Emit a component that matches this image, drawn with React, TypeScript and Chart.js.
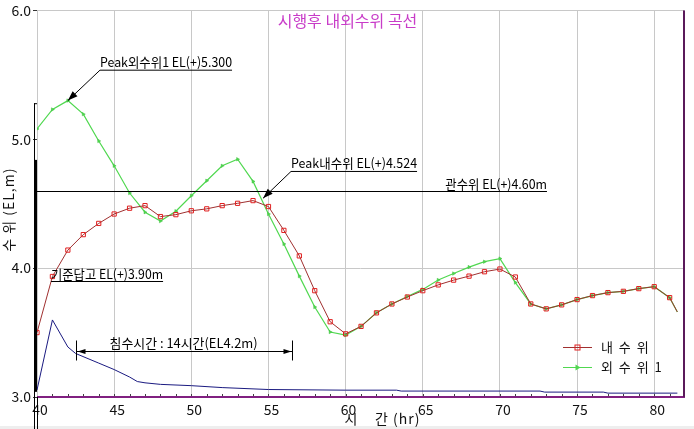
import React, { useEffect, useRef } from "react";
import { Chart, registerables } from "chart.js";

Chart.register(...registerables);

// ---- data ----
const hours = [
  40, 41, 42, 43, 44, 45, 46, 47, 48, 49, 50, 51, 52, 53, 54, 55, 56, 57, 58, 59, 60,
  61, 62, 63, 64, 65, 66, 67, 68, 69, 70, 71, 72, 73, 74, 75, 76, 77, 78, 79, 80, 81, 81.5,
];
const innerLevel = [
  3.5, 3.935, 4.14, 4.26, 4.347, 4.42, 4.465, 4.485, 4.4, 4.415, 4.445, 4.46, 4.485, 4.503,
  4.524, 4.478, 4.293, 4.095, 3.825, 3.584, 3.49, 3.548, 3.653, 3.722, 3.776, 3.825, 3.87,
  3.907, 3.938, 3.972, 3.993, 3.931, 3.722, 3.684, 3.715, 3.756, 3.787, 3.81, 3.82, 3.841,
  3.856, 3.771, 3.66,
];
const outerLevel = [
  5.08, 5.231, 5.3, 5.195, 4.987, 4.794, 4.583, 4.434, 4.365, 4.442, 4.562, 4.678, 4.794,
  4.845, 4.673, 4.42, 4.188, 3.938, 3.698, 3.504, 3.48, 3.548, 3.653, 3.722, 3.78, 3.835,
  3.908, 3.958, 4.008, 4.05, 4.074, 3.888, 3.722, 3.684, 3.715, 3.756, 3.787, 3.81, 3.82,
  3.841, 3.856, 3.771, 3.66,
];
const baseHours = [
  40, 41, 42, 42.5, 44, 45, 46, 46.5, 47, 48, 50, 52, 55, 60, 63.3, 63.6, 72.6, 72.9, 76.7, 77,
  81.5,
];
const baseLevel = [
  3.054, 3.598, 3.388, 3.338, 3.263, 3.213, 3.155, 3.12, 3.11, 3.098, 3.088, 3.073, 3.058,
  3.053, 3.053, 3.046, 3.046, 3.038, 3.038, 3.03, 3.03,
];
const yTicks = [3, 4, 5, 6];
const xTickStep = 5;

const titleText = "시행후 내외수위 곡선";
const yTitle = "수 위 (EL,m)";
const xTitle = "시    간 (hr)";
const innerLabel = "내 수 위";
const outerLabel = "외 수 위 1";
const peakOuterText = "Peak외수위1 EL(+)5.300";
const peakInnerText = "Peak내수위 EL(+)4.524";
const gateText = "관수위 EL(+)4.60m";
const gateLevel = 4.6;
const paddyText = "기준답고 EL(+)3.90m";
const paddyLevel = 3.9;
const floodText = "침수시간 : 14시간(EL4.2m)";
const floodStart = 42.5;
const floodEnd = 56.5;

const NUM_FONT = '"Liberation Sans Narrow", "Noto Sans CJK KR", sans-serif';
const KR_FONT = '"Noto Sans CJK KR", "Liberation Sans Narrow", sans-serif';

function arrowHead(ctx: CanvasRenderingContext2D, fx: number, fy: number, tx: number, ty: number, len: number, hw: number) {
  const a = Math.atan2(ty - fy, tx - fx);
  const bx = tx - len * Math.cos(a);
  const by = ty - len * Math.sin(a);
  ctx.beginPath();
  ctx.moveTo(tx, ty);
  ctx.lineTo(bx + hw * Math.sin(a), by - hw * Math.cos(a));
  ctx.lineTo(bx - hw * Math.sin(a), by + hw * Math.cos(a));
  ctx.closePath();
  ctx.fill();
}

function setSpacing(ctx: any, v: string) {
  if ("letterSpacing" in ctx) ctx.letterSpacing = v;
}

const decoPlugin = {
  id: "deco",
  beforeDraw(chart: any) {
    const ctx = chart.ctx;
    ctx.save();
    ctx.fillStyle = "#ffffff";
    ctx.fillRect(0, 0, chart.width, chart.height);
    ctx.fillStyle = "#eeeeee";
    ctx.fillRect(0, chart.height - 3, chart.width, 3);
    ctx.restore();
  },
  afterDraw(chart: any) {
    const ctx: CanvasRenderingContext2D = chart.ctx;
    const xs = chart.scales.x;
    const ys = chart.scales.y;
    const ca = chart.chartArea;
    const X = (v: number) => xs.getPixelForValue(v);
    const Y = (v: number) => ys.getPixelForValue(v);
    ctx.save();

    // borders
    ctx.fillStyle = "#802080";
    ctx.fillRect(ca.left, ca.bottom - 1, ca.right - ca.left + 1, 2);
    ctx.fillStyle = "#5a1a5a";
    ctx.fillRect(ca.right - 1, ca.top, 2, ca.bottom - ca.top);
    // minor hour ticks on bottom
    ctx.fillStyle = "#404040";
    for (let h = 41; h < xs.max; h++) {
      ctx.fillRect(Math.round(X(h)), ca.bottom - 3, 1, 2);
    }
    // left black bars
    ctx.fillStyle = "#000";
    const topThin = Y(5.28);
    ctx.fillRect(ca.left - 3, topThin, 1, chart.height - topThin);
    ctx.fillRect(ca.left - 3, topThin, 3, 1);
    ctx.fillRect(ca.left - 3, Y(4.84), 3, Y(3.04) - Y(4.84));
    ctx.fillRect(ca.left, ca.bottom, 1, chart.height - ca.bottom);

    // title
    ctx.fillStyle = "#c83cc8";
    ctx.font = `16px ${KR_FONT}`;
    ctx.textAlign = "center";
    ctx.textBaseline = "middle";
    ctx.fillText(titleText, (ca.left + ca.right) / 2 - 13, ca.top + 11);

    // axis titles
    ctx.fillStyle = "#111";
    ctx.font = `14px ${KR_FONT}`;
    setSpacing(ctx, "1px");
    ctx.save();
    ctx.translate(9, (ca.top + ca.bottom) / 2 + 6);
    ctx.rotate(-Math.PI / 2);
    ctx.textAlign = "center";
    ctx.textBaseline = "middle";
    ctx.fillText(yTitle, 0, 0);
    ctx.restore();
    ctx.textAlign = "left";
    ctx.textBaseline = "middle";
    ctx.font = `14px ${KR_FONT}`;
    ctx.fillText(xTitle, X(60) - 1, chart.height - 10);
    setSpacing(ctx, "0px");

    ctx.strokeStyle = "#000";
    ctx.fillStyle = "#000";
    ctx.lineWidth = 1;
    ctx.font = `13px ${KR_FONT}`;

    // Peak outer
    {
      const ul = Y(5.54);
      const x0 = X(44.08), x1 = X(52.64);
      ctx.textAlign = "left";
      ctx.textBaseline = "alphabetic";
      ctx.fillText(peakOuterText, x0, ul - 3, x1 - x0);
      ctx.beginPath();
      ctx.moveTo(x1, ul + 0.5);
      ctx.lineTo(x0, ul + 0.5);
      ctx.lineTo(X(42), Y(5.3));
      ctx.stroke();
      arrowHead(ctx, x0, ul, X(42), Y(5.3), 10, 3.5);
    }
    // Peak inner
    {
      const ul = Y(4.754);
      const x0 = X(56.46), x1 = X(64.63);
      ctx.fillText(peakInnerText, x0, ul - 3, x1 - x0);
      ctx.beginPath();
      ctx.moveTo(x1, ul + 0.5);
      ctx.lineTo(x0, ul + 0.5);
      ctx.lineTo(X(54.65), Y(4.542));
      ctx.stroke();
      arrowHead(ctx, x0, ul, X(54.65), Y(4.542), 10, 3.5);
    }
    // gate level line
    {
      const ly = Math.round(Y(gateLevel)) + 0.5;
      const x1 = X(73.05);
      ctx.beginPath();
      ctx.moveTo(ca.left, ly);
      ctx.lineTo(x1, ly);
      ctx.stroke();
      ctx.textAlign = "right";
      ctx.fillText(gateText, x1, ly - 3, X(73.05) - X(66.46));
    }
    // paddy level
    {
      const ly = Math.round(Y(paddyLevel)) + 0.5;
      const x0 = X(40.91), x1 = X(48.17);
      ctx.textAlign = "left";
      ctx.fillText(paddyText, x0, ly - 3, x1 - x0);
      ctx.beginPath();
      ctx.moveTo(x0, ly);
      ctx.lineTo(x1, ly);
      ctx.stroke();
    }
    // flood duration
    {
      const ly = Math.round(Y(3.357)) + 0.5;
      const x0 = Math.round(X(floodStart)) + 0.5, x1 = Math.round(X(floodEnd)) + 0.5;
      ctx.beginPath();
      ctx.moveTo(x0, ly);
      ctx.lineTo(x1, ly);
      ctx.moveTo(x0, ly - 11);
      ctx.lineTo(x0, ly + 9);
      ctx.moveTo(x1, ly - 11);
      ctx.lineTo(x1, ly + 9);
      ctx.stroke();
      arrowHead(ctx, x0 + 20, ly, x0 + 1, ly, 8, 2.5);
      arrowHead(ctx, x1 - 20, ly, x1 - 1, ly, 8, 2.5);
      ctx.textAlign = "left";
      const tx0 = X(44.7), tx1 = X(54.3);
      ctx.fillText(floodText, tx0, ly - 4, tx1 - tx0);
    }

    // legend
    {
      const lx = 563, lw = 29;
      const rows = [
        { ds: chart.data.datasets[0], y: 347, text: innerLabel },
        { ds: chart.data.datasets[1], y: 367, text: outerLabel },
      ];
      rows.forEach((r, i) => {
        ctx.strokeStyle = r.ds.borderColor;
        ctx.lineWidth = 1;
        ctx.beginPath();
        ctx.moveTo(lx, r.y + 0.5);
        ctx.lineTo(lx + lw, r.y + 0.5);
        ctx.stroke();
        const cx = lx + lw / 2;
        if (i === 0) {
          ctx.strokeStyle = r.ds.pointBorderColor;
          ctx.strokeRect(cx - 2.5, r.y - 2, 5, 5);
        } else {
          ctx.fillStyle = r.ds.pointBackgroundColor;
          ctx.beginPath();
          ctx.moveTo(cx + 3, r.y + 0.5);
          ctx.lineTo(cx - 2, r.y - 2.5);
          ctx.lineTo(cx - 2, r.y + 3.5);
          ctx.closePath();
          ctx.fill();
        }
        ctx.fillStyle = "#111";
        ctx.font = `13px ${KR_FONT}`;
        ctx.textAlign = "left";
        ctx.textBaseline = "middle";
        setSpacing(ctx, "1.5px");
        ctx.fillText(r.text, 601, r.y);
        setSpacing(ctx, "0px");
      });
    }
    ctx.restore();
  },
};

export default function App() {
  const ref = useRef<HTMLCanvasElement | null>(null);
  useEffect(() => {
    if (!ref.current) return;
    const chart = new Chart(ref.current, {
      type: "line",
      data: {
        datasets: [
          {
            label: innerLabel,
            data: hours.map((h, i) => ({ x: h, y: innerLevel[i] })),
            borderColor: "#a03030",
            borderWidth: 1,
            pointStyle: "rect",
            pointRadius: (c: any) => (c.dataIndex === hours.length - 1 ? 0 : 3),
            pointBorderColor: "#e02020",
            pointBackgroundColor: "rgba(0,0,0,0)",
            pointBorderWidth: 1,
            tension: 0,
            order: 0,
          },
          {
            label: outerLabel,
            data: hours.map((h, i) => ({ x: h, y: outerLevel[i] })),
            borderColor: "#50d850",
            borderWidth: 1.2,
            pointStyle: "triangle",
            pointRotation: 90,
            pointRadius: (c: any) => (c.dataIndex === hours.length - 1 ? 0 : 2),
            pointBorderColor: "#40c040",
            pointBackgroundColor: "#50d850",
            pointBorderWidth: 0.5,
            tension: 0,
            order: 1,
          },
          {
            label: "",
            data: baseHours.map((h, i) => ({ x: h, y: baseLevel[i] })),
            borderColor: "#1a1a80",
            borderWidth: 1,
            pointRadius: 0,
            tension: 0,
            order: 2,
          },
        ],
      },
      options: {
        responsive: false,
        animation: false,
        devicePixelRatio: 1,
        layout: { padding: { top: 8, right: 10, left: 0, bottom: 0 } },
        plugins: { legend: { display: false }, tooltip: { enabled: false }, title: { display: false } },
        scales: {
          x: {
            type: "linear",
            min: 40,
            max: 81.93,
            afterFit: (s: any) => {
              s.height = 32;
            },
            ticks: {
              stepSize: xTickStep,
              includeBounds: false,
              autoSkip: false,
              maxRotation: 0,
              padding: 4,
              labelOffset: 3,
              color: "#111",
              font: { family: NUM_FONT, size: 14 },
              callback: (v: any) => String(v),
            },
            grid: { color: "#c8c8c8", lineWidth: 1, drawTicks: false },
            border: { display: false },
          },
          y: {
            type: "linear",
            min: 3,
            max: 6,
            afterFit: (s: any) => {
              s.width = 37;
            },
            afterBuildTicks: (s: any) => {
              s.ticks = yTicks.map((v) => ({ value: v }));
            },
            ticks: {
              padding: 2,
              color: "#111",
              font: { family: NUM_FONT, size: 14 },
              callback: (v: any) => Number(v).toFixed(1),
            },
            grid: {
              color: (c: any) => (c.tick && (c.tick.value === 4 || c.tick.value === 6) ? "#c8c8c8" : "rgba(0,0,0,0)"),
              tickColor: "#333",
              tickLength: 4,
              lineWidth: 1,
            },
            border: { display: false },
          },
        },
      } as any,
      plugins: [decoPlugin],
    });
    return () => chart.destroy();
  }, []);
  return (
    <div style={{ position: "absolute", left: 0, top: 0, width: 694, height: 429 }}>
      <canvas ref={ref} width={694} height={429} style={{ display: "block" }} />
    </div>
  );
}
